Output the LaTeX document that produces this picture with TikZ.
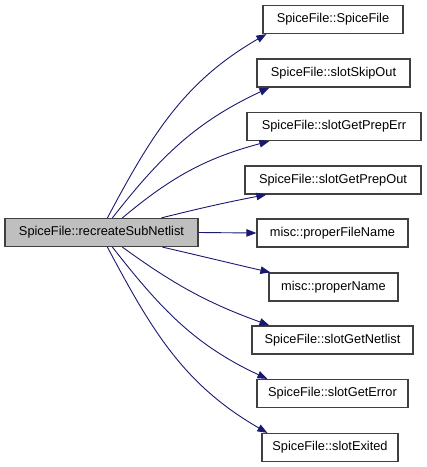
\documentclass[tikz,border=0pt]{standalone}
\usepackage{fontspec}
\setmainfont{Liberation Sans}
\usetikzlibrary{arrows.meta}
\definecolor{edgeblue}{HTML}{191970}
\definecolor{boxgray}{HTML}{BFBFBF}
\definecolor{boxline}{HTML}{404040}
\tikzset{
  fn/.style={draw=boxline, line width=1.2pt, fill=white, minimum height=28pt, inner sep=0pt, font=\fontsize{12.8pt}{14pt}\selectfont},
  mainfn/.style={fn, fill=boxgray},
  call/.style={draw=edgeblue, line width=0.9pt, -{Triangle[length=10pt,width=7.5pt]}}
}
\begin{document}
\begin{tikzpicture}[x=1pt,y=-1pt]
\useasboundingbox (0,0) rectangle (427,467);
\node[mainfn, minimum width=193pt] (main) at (101.5,232.5) {SpiceFile::recreateSubNetlist};
\node[fn, minimum width=140pt] (t1) at (333,19.5) {SpiceFile::SpiceFile};
\node[fn, minimum width=153pt] (t2) at (333.5,73) {SpiceFile::slotSkipOut};
\node[fn, minimum width=174pt] (t3) at (334,126.5) {SpiceFile::slotGetPrepErr};
\node[fn, minimum width=176pt] (t4) at (333,180) {SpiceFile::slotGetPrepOut};
\node[fn, minimum width=151pt] (t5) at (332.5,233) {misc::properFileName};
\node[fn, minimum width=129pt] (t6) at (333.5,287) {misc::properName};
\node[fn, minimum width=161pt] (t7) at (332.5,340) {SpiceFile::slotGetNetlist};
\node[fn, minimum width=151pt] (t8) at (332.5,393.5) {SpiceFile::slotGetError};
\node[fn, minimum width=136pt] (t9) at (330,447.5) {SpiceFile::slotExited};

\draw[call] ([xshift=103pt]main.north west) to[out=62,in=210] ([xshift=4pt]t1.south west);
\draw[call] ([xshift=108pt]main.north west) to[out=52,in=205] ([xshift=13pt]t2.south west);
\draw[call] ([xshift=118pt]main.north west) to[out=40,in=195] ([xshift=23pt]t3.south west);
\draw[call] ([xshift=157pt]main.north west) to[out=14,in=191] ([xshift=22pt]t4.south west);
\draw[call] (main.east) -- (t5.west);
\draw[call] ([xshift=158pt]main.south west) to[out=-13,in=167] ([xshift=2pt]t6.north west);
\draw[call] ([xshift=118pt]main.south west) to[out=-36,in=160] ([xshift=18pt]t7.north west);
\draw[call] ([xshift=108pt]main.south west) to[out=-52,in=155] ([xshift=11pt]t8.north west);
\draw[call] ([xshift=103pt]main.south west) to[out=-62,in=150] ([xshift=6pt]t9.north west);
\end{tikzpicture}
\end{document}
